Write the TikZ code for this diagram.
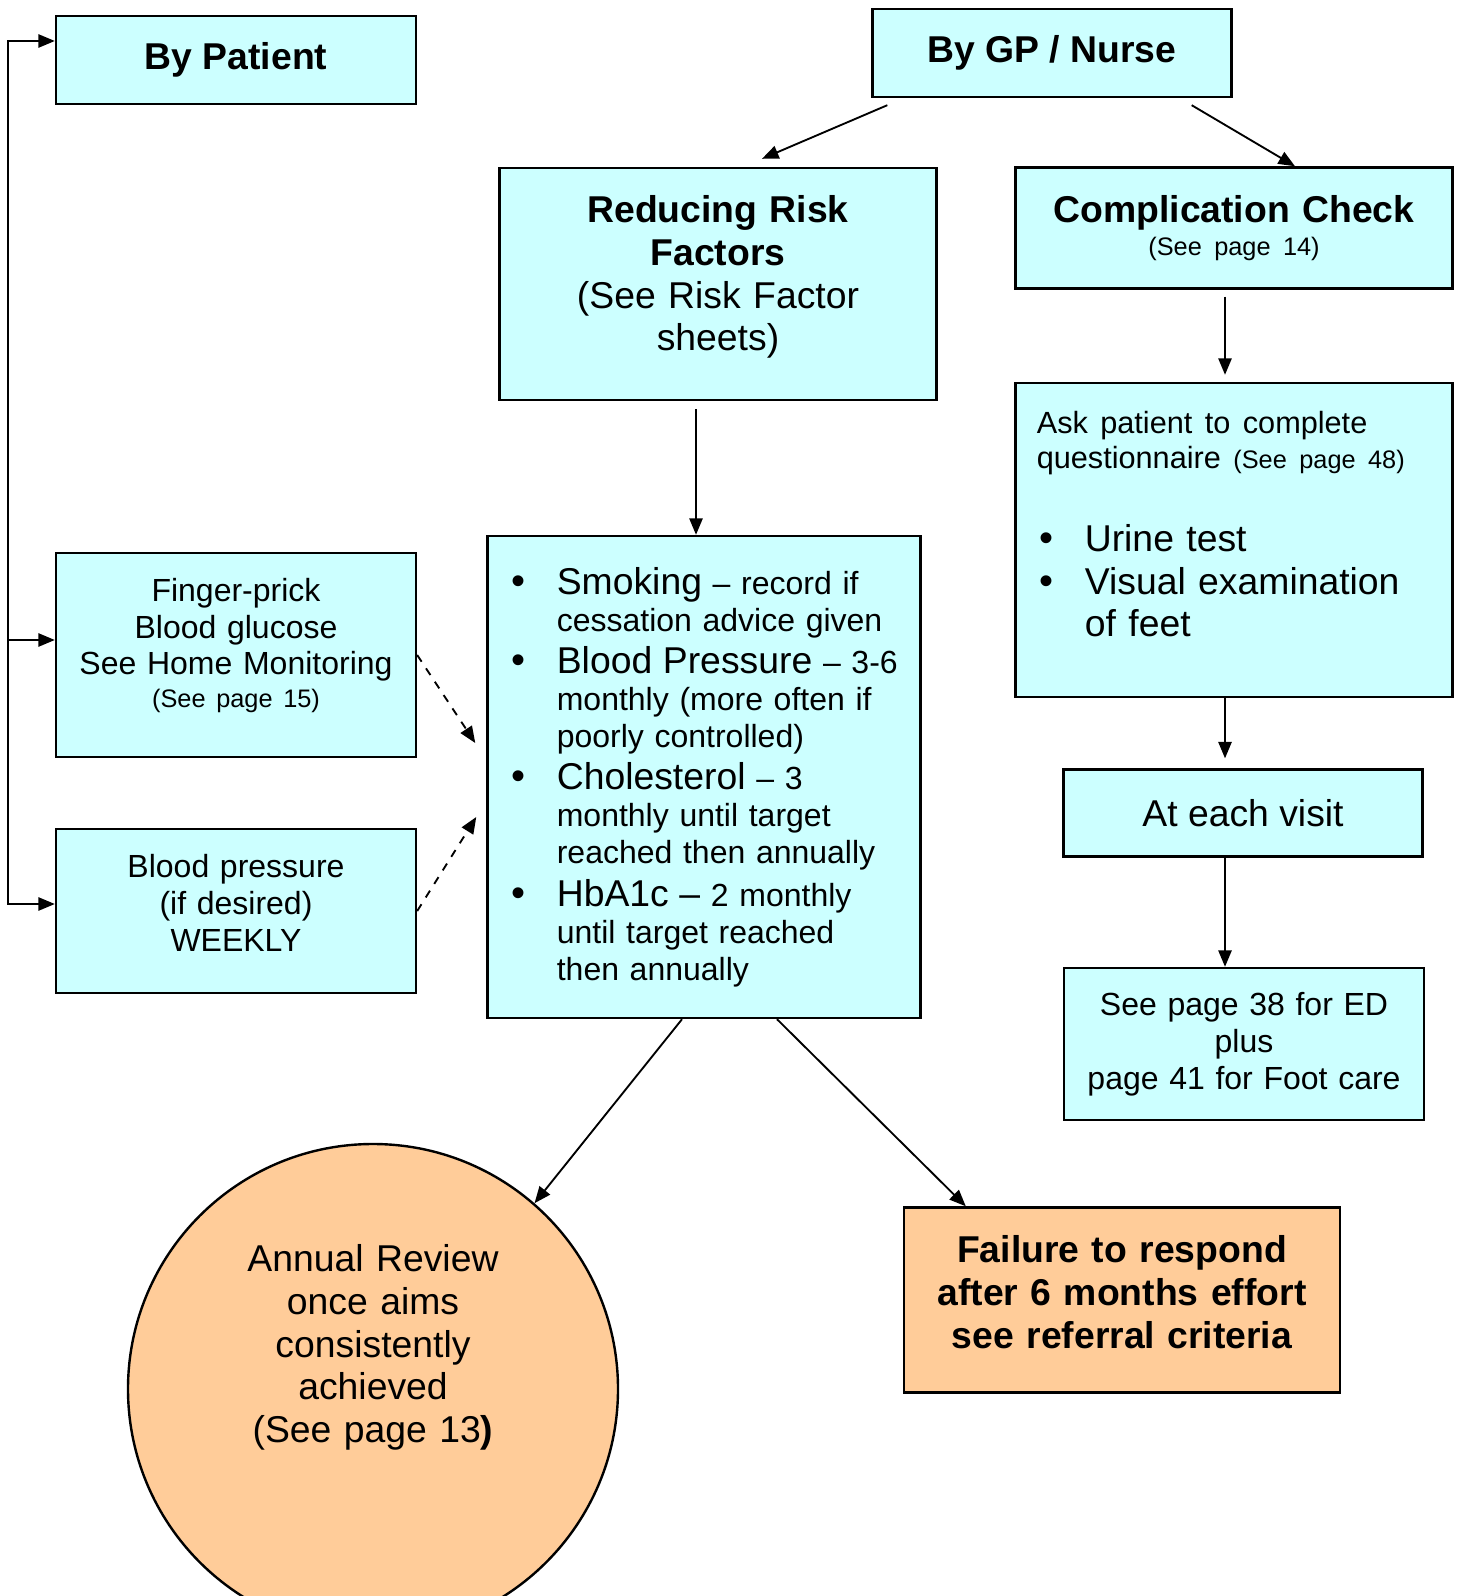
\documentclass[tikz,border=0pt]{standalone}
\usepackage{fontspec}
\setmainfont{Liberation Sans}
\usetikzlibrary{arrows.meta,calc}

\definecolor{paleblue}{RGB}{204,255,255}
\definecolor{paleorange}{RGB}{255,204,153}

% bullet line with a hanging indent
\newcommand{\dotitem}[1]{\par\hangindent=18pt\hangafter=1
  \noindent\hspace*{1pt}\makebox[17pt][l]{\fontsize{15}{14}\selectfont\textbullet}#1\par}
\newcommand{\lead}[1]{{\fontsize{14}{16}\selectfont #1}}
\newcommand{\padbelow}[1]{\rule[-#1]{0pt}{#1}}
\newcommand{\note}[1]{{\fontsize{9.5}{11}\selectfont #1}}

\begin{document}
\begin{tikzpicture}[x=0.375pt,y=-0.375pt,line width=0.7pt,
    >={Triangle[length=6.2pt,width=5pt]},
    box/.style={rectangle,draw,line width=0.9pt,fill=paleblue,inner xsep=8pt,inner ysep=0pt,align=center},
    target/.style={box,fill=paleorange},
    big/.style={font=\fontsize{14}{16}\selectfont},
    mid/.style={font=\fontsize{12}{13.8}\selectfont}]
  \useasboundingbox (0,0) rectangle (1461,1596);
  \clip (0,0) rectangle (1461,1596);

  % patient side
  \node[box,big,minimum width=135pt,minimum height=33pt] (patient) at (236,60) {\textbf{By Patient}};
  \node[box,mid,text width=119pt,minimum height=76.5pt] (finger) at (236,655)
    {Finger-prick\\Blood glucose\\See Home Monitoring\\[-1.5pt]\note{(See page 15)}\padbelow{9pt}};
  \node[box,mid,text width=119pt,minimum height=61.5pt] (bp) at (236,911)
    {Blood pressure\\(if desired)\\WEEKLY\padbelow{6pt}};

  % GP / nurse side
  \node[box,big,minimum width=134.6pt,minimum height=33pt] (gp) at (1052,53) {\textbf{By GP / Nurse}};
  \node[box,big,text width=147.9pt,minimum height=87pt] (risk) at (718,284)
    {\textbf{Reducing Risk}\\\textbf{Factors}\\(See Risk Factor\\sheets)\padbelow{8pt}};
  \node[box,font=\fontsize{14}{12.5}\selectfont,text width=147.9pt,minimum height=45.4pt] (comp) at (1234,228)
    {\textbf{Complication Check}\\\note{(See page 14)}};
  \node[box,big,align=left,text width=147.9pt,minimum height=117.75pt] (ask) at (1234,540)
    {{\fontsize{11.5}{13.3}\selectfont Ask patient to complete\newline questionnaire \note{(See page 48)}\par}
     \vspace{15pt}
     \dotitem{Urine test}
     \dotitem{Visual examination\newline of feet\padbelow{12pt}}};
  \node[box,big,minimum width=134.6pt,minimum height=32.6pt] (visit) at (1243,813) {At each visit};
  \node[box,mid,text width=119pt,minimum height=57pt] (seepage) at (1244,1044)
    {See page 38 for ED\\plus\\page 41 for Foot care};
  \node[box,mid,align=left,text width=146.4pt,minimum height=180.75pt] (bullets) at (704,777)
    {\dotitem{\lead{Smoking} -- record if\newline cessation advice given}\vspace{2pt}
     \dotitem{\lead{Blood Pressure} -- 3-6\newline monthly (more often if\newline poorly controlled)}\vspace{2pt}
     \dotitem{\lead{Cholesterol} -- 3\newline monthly until target\newline reached then annually}\vspace{2.5pt}
     \dotitem{\lead{HbA1c --} 2 monthly\newline until target reached\newline then annually\padbelow{6pt}}};

  % outcomes
  \node[target,big,circle,text width=120pt,minimum size=183.75pt,inner sep=0pt] (annual) at (373,1389)
    {Annual Review\\once aims\\consistently\\achieved\\(See page 13\textbf{)}\padbelow{34pt}};
  \node[target,font=\fontsize{14}{16}\selectfont\bfseries,text width=147.5pt,minimum height=69.4pt] (failure) at (1122,1300)
    {Failure to respond\\after 6 months effort\\see referral criteria\padbelow{6pt}};

  % connectors
  \coordinate (railtop) at (8,41);
  \coordinate (railmid) at (8,640);
  \coordinate (railbot) at (8,904);
  \draw[<->] (railtop -| patient.west) -- (railtop) -- (railbot) -- (railbot -| bp.west);
  \draw[->] (railmid) -- (railmid -| finger.west);
  \draw[->] ($(gp.south west)+(16,7)$) -- ($(risk.north)+(44,-8)$);
  \draw[->] ($(gp.south east)+(-41,7)$) -- ($(comp.north)+(61,0)$);
  \draw[->] ($(risk.south)+(-22,8)$) -- ($(bullets.north)+(-8,0)$);
  \draw[->] ($(comp.south)+(-9,7)$) -- ($(ask.north)+(-9,-7)$);
  \draw[->] ($(ask.south)+(-9,0)$) -- ($(visit.north)+(-18,-10)$);
  \draw[->] ($(visit.south)+(-18,0)$) -- ($(seepage.north)+(-19,0)$);
  \draw[->] ($(bullets.south)+(-22,0)$) -- (annual.49);
  \draw[->] ($(bullets.south)+(73,0)$) -- ($(failure.north west)+(63,0)$);
  \draw[->,dashed] (finger.east) -- ($(bullets.west)+(-11,-34)$);
  \draw[->,dashed] (bp.east) -- ($(bullets.west)+(-10,40)$);
\end{tikzpicture}
\end{document}
